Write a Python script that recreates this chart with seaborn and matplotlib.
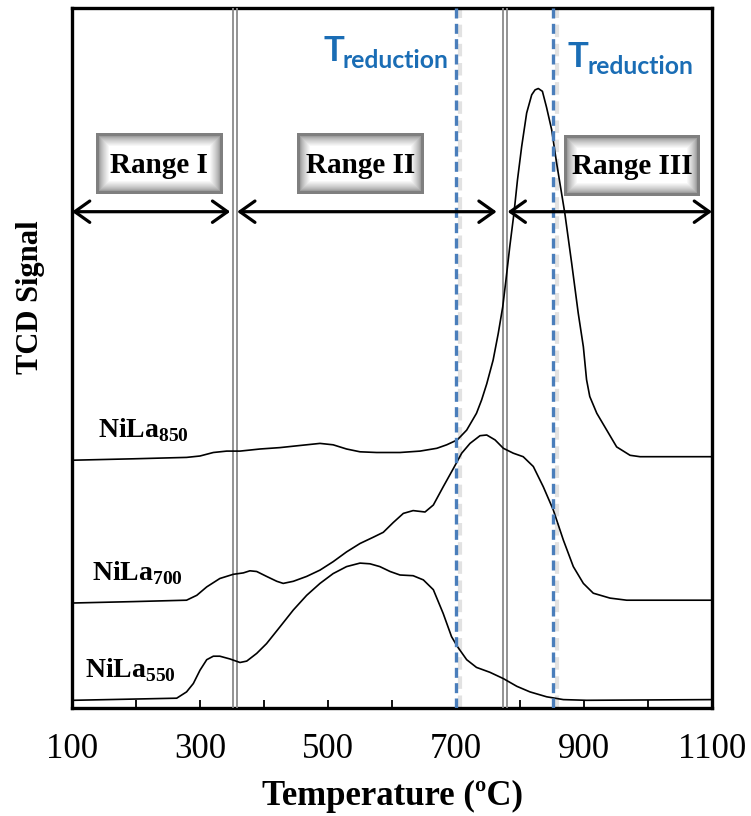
import numpy as np
import pandas as pd
import matplotlib
matplotlib.use("Agg")
import matplotlib.pyplot as plt
import seaborn as sns
from matplotlib.patches import Rectangle

# ---------------- H2-TPR profiles (temperature in ºC, TCD signal in a.u.) ----------------
t_850 = [102, 196, 279, 300, 320.8, 341.7, 362.5, 393.8, 425, 456, 487.5, 508, 529, 550, 576,
         612.5, 643.8, 670, 685.5, 702, 716.7, 732, 740, 748, 758, 766, 773, 778, 784, 790.6,
         796, 802.6, 810.4, 818.3, 823.5, 828.6, 835, 841.5, 849.5, 857.3, 870, 880.8, 891, 899,
         904, 909, 920, 935.5, 951, 972, 987.5, 1100]
s_850 = [35.4, 35.6, 35.8, 36.0, 36.5, 36.7, 36.7, 37.0, 37.2, 37.5, 37.8, 37.6, 37.0, 36.6, 36.5,
         36.5, 36.7, 37.1, 37.6, 38.3, 39.7, 42.1, 44.0, 46.3, 49.7, 53.5, 57.3, 61.1, 65.9, 70.7,
         75.4, 80.2, 85.0, 87.6, 88.3, 88.5, 88.1, 85.8, 82.6, 77.8, 70.7, 63.5, 56.4, 51.6,
         46.9, 44.5, 42.1, 39.7, 37.3, 36.1, 35.9, 35.9]

t_700 = [102, 196, 279, 295, 310.5, 331, 352, 367.7, 378, 388.6, 404, 420, 430, 445.8, 466.7,
         487.5, 508, 529, 550, 570.8, 586.4, 602, 617.7, 633, 651.6, 664.6, 680, 695.8, 708.9,
         721.9, 737.5, 748, 761, 774, 789.5, 805, 820.8, 836.4, 852, 867.7, 883.3, 899, 914.5,
         940.6, 966.7, 1100]
s_700 = [15.0, 15.2, 15.4, 16.1, 17.3, 18.5, 19.1, 19.3, 19.6, 19.5, 18.8, 18.1, 17.8, 18.1, 18.8,
         19.7, 20.9, 22.3, 23.5, 24.4, 25.1, 26.5, 27.8, 28.2, 28.0, 29.0, 31.6, 34.2, 36.4,
         37.8, 38.9, 39.0, 38.3, 37.1, 36.4, 35.9, 34.5, 31.6, 28.3, 24.0, 20.2, 17.8, 16.4,
         15.7, 15.4, 15.4]

t_550 = [102, 263.6, 279, 289.6, 300, 310.5, 320.8, 331, 347, 362.5, 373, 388.6, 404, 425, 445.8,
         466.7, 487.5, 508, 529, 550, 565.6, 581, 597, 612.5, 633, 649, 664.6, 680, 693, 702,
         716.7, 732, 753, 774, 795, 815.6, 841.7, 867.7, 904, 1100]
s_550 = [1.1, 1.4, 2.3, 3.5, 5.4, 6.9, 7.4, 7.4, 7.0, 6.5, 6.7, 7.8, 9.2, 11.6, 14.0, 16.1, 17.8,
         19.2, 20.2, 20.7, 20.6, 20.2, 19.5, 19.0, 18.9, 18.3, 16.9, 13.5, 10.2, 8.8, 6.9, 5.8,
         5.1, 4.2, 3.1, 2.3, 1.6, 1.2, 1.1, 1.2]

samples = ["850", "700", "550"]
label_pos = {"850": (140, 38.7), "700": (131, 18.3), "550": (121, 4.4)}

# region boundaries and reduction temperatures
range_bounds = [355, 776]
t_reduction = [700, 852]
range_names = ["Range I", "Range II", "Range III"]
xticks_major = [100, 300, 500, 700, 900, 1100]
xticks_minor = [200, 400, 600, 800, 1000]

frames = []
for name, t, s in zip(samples, [t_850, t_700, t_550], [s_850, s_700, s_550]):
    frames.append(pd.DataFrame({"T": t, "signal": s, "sample": name}))
df = pd.concat(frames, ignore_index=True)

sns.set_theme(style="white")
plt.rcParams["font.family"] = ["Liberation Serif", "DejaVu Serif"]
plt.rcParams["mathtext.fontset"] = "custom"
plt.rcParams["mathtext.bf"] = "Liberation Serif:bold"
plt.rcParams["mathtext.rm"] = "Liberation Serif"
plt.rcParams["text.color"] = "black"
plt.rcParams["axes.labelcolor"] = "black"
plt.rcParams["xtick.color"] = "black"
plt.rcParams["xtick.labelcolor"] = "black"

W, H = 751, 816
fig = plt.figure(figsize=(W / 100, H / 100), dpi=100)
ax = fig.add_axes([72 / W, 1 - 708 / H, 640 / W, 700 / H])
ax.set_xlim(100, 1100)
ax.set_ylim(0, 100)

dx = 1000 / 640   # ºC per pixel
dy = 100 / 700    # signal units per pixel

# profiles
for name in samples:
    sns.lineplot(data=df[df["sample"] == name], x="T", y="signal", ax=ax, color="black",
                 lw=1.2, sort=False, estimator=None, legend=False, zorder=5)

# double grey boundary lines
for b in range_bounds:
    for off in (-2.0 * dx, 2.0 * dx):
        ax.axvline(b + off, color="#8a8a8a", lw=1.3, zorder=3)

# reduction temperatures: dashed blue lines with soft shadow
for tr in t_reduction:
    ax.axvline(tr + 4 * dx, color="#cfcfcf", lw=3.0, ls=(0, (3, 1.6)), alpha=0.6, zorder=2)
    ax.axvline(tr, color="#4a7ebb", lw=2.4, ls=(0, (3, 1.6)), zorder=6)

# T_reduction labels
blue = "#1a6db5"
t_label_pos = [(492.2, 92.45, 523.4, 91.4), (875.0, 91.6, 904.7, 90.6)]
for xt, yt, xs, ys in t_label_pos:
    ax.text(xt, yt, "T", color=blue, fontsize=25, fontweight="bold",
            family=["Lato", "DejaVu Sans"], ha="left", va="baseline", zorder=7)
    ax.text(xs, ys, "reduction", color=blue, fontsize=17.8, fontweight="bold",
            family=["Lato", "DejaVu Sans"], ha="left", va="baseline", zorder=7)

# range arrows
arrow_y = 70.9
spans = [(100, range_bounds[0] - 5 * dx), (range_bounds[0] + 2 * dx, range_bounds[1] - 8 * dx),
         (range_bounds[1] + 3 * dx, 1100)]
for x0, x1 in spans:
    ax.annotate("", xy=(x1, arrow_y), xytext=(x0, arrow_y),
                arrowprops=dict(arrowstyle="<->,head_length=0.45,head_width=0.32", lw=2.3,
                                color="black", mutation_scale=24, shrinkA=0, shrinkB=0),
                zorder=6, annotation_clip=False)


def glow_box(x0, x1, y0, y1, text):
    n = 14
    for i in range(n):
        if i < 3:
            c = "#7f7f7f"
        else:
            g = 0.62 + (1.0 - 0.62) * ((i - 3) / (n - 4)) ** 0.8
            c = (g, g, g)
        ax.add_patch(Rectangle((x0 + i * dx, y0 + i * dy), (x1 - x0) - 2 * i * dx,
                               (y1 - y0) - 2 * i * dy, facecolor=c, edgecolor="none", zorder=7))
    ax.text((x0 + x1) / 2, (y0 + y1) / 2 - 0.2, text, fontsize=21, fontweight="bold",
            ha="center", va="center", color="black", zorder=8)


boxes = [(137.5, 335.5, 73.4, 82.1), (452, 650, 73.4, 82.1), (868, 1082, 73.1, 81.9)]
for (x0, x1, y0, y1), nm in zip(boxes, range_names):
    glow_box(x0, x1, y0, y1, nm)

# sample labels
for name in samples:
    x, y = label_pos[name]
    ax.text(x, y, r"$\mathbf{NiLa}_{\mathbf{" + name + "}}$", fontsize=20, ha="left",
            va="baseline", color="black", zorder=8)

# axes styling
for side in ["left", "right", "top", "bottom"]:
    ax.spines[side].set_visible(True)
    ax.spines[side].set_color("black")
    ax.spines[side].set_linewidth(2.4)
ax.set_xticks(xticks_major)
ax.set_xticks(xticks_minor, minor=True)
ax.set_xticklabels([str(v) for v in xticks_major])
ax.set_yticks([])
ax.tick_params(axis="x", which="both", direction="in", length=6, width=1.3, color="black",
               labelcolor="black", bottom=True, top=False, pad=18, labelsize=25)
ax.tick_params(axis="x", which="minor", labelbottom=False)
ax.set_xlabel("Temperature (ºC)", fontsize=25, fontweight="bold", labelpad=10, color="black")
ax.set_ylabel("TCD Signal", fontsize=22, fontweight="bold", color="black")
ax.yaxis.set_label_coords(-0.042, 0.587)

fig.savefig("out.png", dpi=100)
